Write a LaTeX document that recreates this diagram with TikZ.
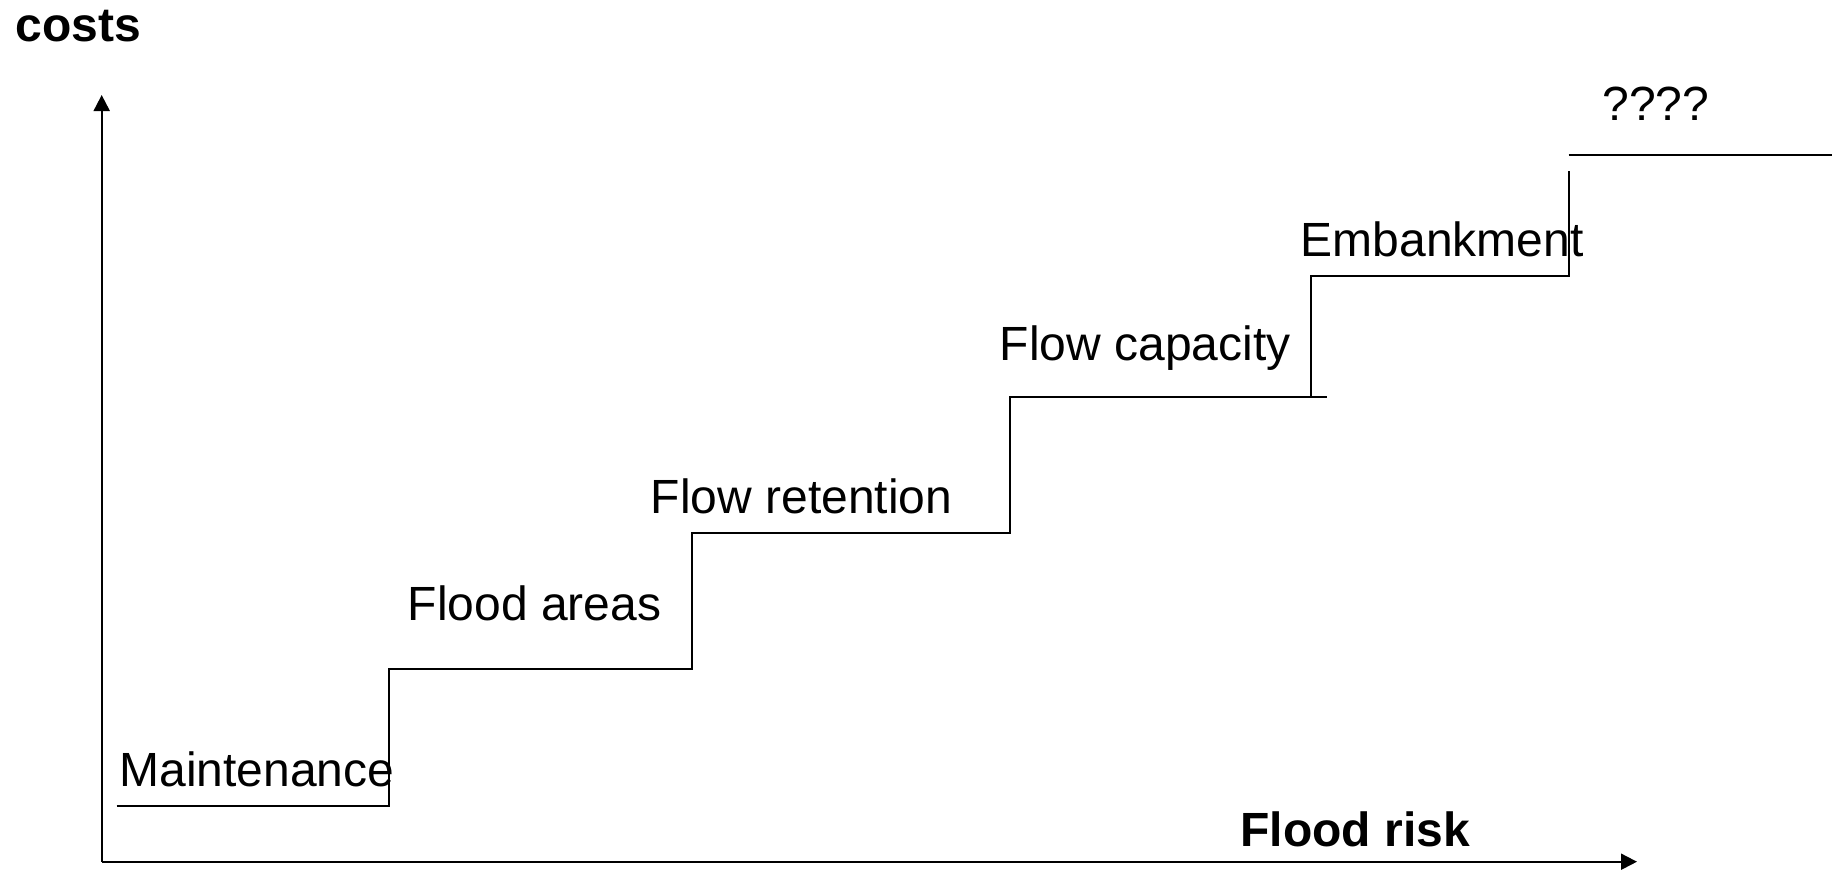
\documentclass[tikz,border=0pt]{standalone}
\usepackage{fontspec}
\setmainfont{Liberation Sans}
\usetikzlibrary{arrows.meta}
\begin{document}
\begin{tikzpicture}[x=0.5pt,y=-0.5pt,
  axis/.style={line width=1pt,-{Triangle[width=8pt,length=8pt]}},
  stair/.style={line width=1pt},
  lbl/.style={anchor=base west,inner sep=0pt,font=\fontsize{24pt}{28pt}\selectfont},
  blbl/.style={lbl,font=\fontsize{24pt}{28pt}\selectfont\bfseries}]
\useasboundingbox (0,0) rectangle (1832,869);
% axes
\coordinate (O) at (101.7,861.7);
\coordinate (ytop) at (101.7,95);
\coordinate (xend) at (1637,861.7);
\draw[axis] (O) -- (ytop);
\draw[axis] (O) -- (xend);
% axis labels
\node[blbl] (costs) at (15,41.7) {costs};
\node[blbl] (risk) at (1240,846.7) {Flood risk};
% stairs
\coordinate (s0) at (116.7,805.7);
\coordinate (s1) at (389.3,805.7);
\coordinate (s2) at (389.3,669);
\coordinate (s3) at (692,669);
\coordinate (s4) at (692,532.5);
\coordinate (s5) at (1010,532.5);
\coordinate (s6) at (1010,397);
\coordinate (s7) at (1326.7,397);
\coordinate (e0) at (1311,397);
\coordinate (e1) at (1311,276);
\coordinate (e2) at (1568.7,276);
\coordinate (e3) at (1568.7,170.7);
\coordinate (t0) at (1568.7,155);
\coordinate (t1) at (1832,155);
\draw[stair] (s0) -- (s1) -- (s2) -- (s3) -- (s4) -- (s5) -- (s6) -- (s7);
\draw[stair] (e0) -- (e1) -- (e2) -- (e3);
\draw[stair] (t0) -- (t1);
% step labels
\node[lbl] (m) at (119,786.7) {Maintenance};
\node[lbl] (fa) at (407.5,620) {Flood areas};
\node[lbl] (fr) at (650.5,513.3) {Flow retention};
\node[lbl] (fc) at (999.5,360) {Flow capacity};
\node[lbl] (em) at (1300.5,256.7) {Embankment};
\node[lbl] (q) at (1602,120) {????};
\end{tikzpicture}
\end{document}
